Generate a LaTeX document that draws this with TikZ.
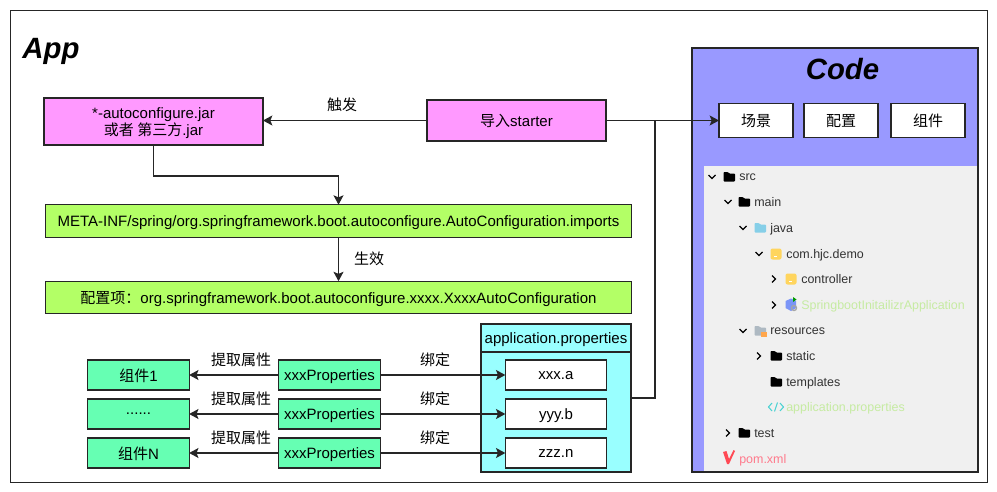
\documentclass[tikz,border=0pt]{standalone}
\usepackage{fontspec}
\setmainfont{Liberation Sans}
\newfontfamily\cjk{Noto Sans CJK SC}
\usetikzlibrary{arrows.meta,positioning}
\definecolor{jarpink}{HTML}{FF99FF}
\definecolor{confgreen}{HTML}{B3FF66}
\definecolor{compgreen}{HTML}{66FFB3}
\definecolor{propcyan}{HTML}{99FFFF}
\definecolor{codeblue}{HTML}{9999FF}
\definecolor{panelgray}{HTML}{F0F0F0}
\definecolor{pkgyellow}{HTML}{FFD55E}
\definecolor{javablue}{HTML}{86CFE8}
\definecolor{resgray}{HTML}{AEB9C2}
\definecolor{lightgreen}{HTML}{C6EBA2}
\definecolor{pomred}{HTML}{FF7A8C}
\tikzset{
  box/.style={draw=black!85,line width=0.9pt,inner sep=0pt,outer sep=0pt,text depth=0pt,font=\fontsize{11.25}{13}\selectfont,align=center},
  rowbox/.style={box,minimum width=76pt,minimum height=22.5pt},
  topbox/.style={box,fill=white,minimum width=55.5pt,minimum height=25pt},
  conf/.style={box,fill=confgreen,minimum width=439pt,minimum height=24.5pt},
  tag/.style={inner sep=0pt,font=\fontsize{11.25}{13}\selectfont},
  tree/.style={anchor=west,inner sep=0pt,text depth=0pt,font=\fontsize{9.35}{11}\selectfont,text=black!80},
  arrow/.style={draw=black!85,line width=0.9pt,-{Stealth[length=7pt,width=7.5pt,inset=1.5pt]}},
  link/.style={draw=black!85,line width=0.9pt},
  chevdown/.style={line width=1pt},
}
% small icons of the file tree
\newcommand{\treefolder}[3]{\fill[#3,rounded corners=0.6pt] (#1-5.5,#2+4.5) -- (#1-5.5,#2-5) -- (#1-1,#2-5) -- (#1,#2-3.5) -- (#1+6,#2-3.5) -- (#1+6,#2+4.5) -- cycle;}
\newcommand{\treepkg}[2]{\fill[pkgyellow,rounded corners=1.5pt] (#1-5.5,#2-5.5) rectangle (#1+5.5,#2+5.5); \fill[white] (#1-2.5,#2+2) rectangle (#1+0.5,#2+3);}
\newcommand{\chevopen}[2]{\draw[chevdown] (#1-3.5,#2-2) -- (#1,#2+1.5) -- (#1+3.5,#2-2);}
\newcommand{\chevshut}[2]{\draw[chevdown] (#1-2,#2-3.5) -- (#1+1.5,#2) -- (#1-2,#2+3.5);}
\newcommand{\moredots}{......}
\begin{document}
\begin{tikzpicture}[x=0.75pt,y=-0.75pt]
  \path[use as bounding box,fill=white] (0,0) rectangle (997,492);
  \node[box,line width=0.75pt,minimum width=732.75pt,minimum height=353.25pt] (appframe) at (498.5,246.5) {};
  \node[inner sep=0pt,font=\fontsize{22}{24}\selectfont\bfseries\itshape] (apptitle) at (51,51) {App};
  % code side
  \node[box,fill=codeblue,minimum width=214.5pt,minimum height=318pt] (codeframe) at (835,260) {};
  \fill[panelgray] (704,166) rectangle (977,471);
  \node[inner sep=0pt,font=\fontsize{22}{24}\selectfont\bfseries\itshape] (codetitle) at (842.5,69) {Code};
  \node[topbox] (scene) at (756,120.5) {\cjk 场景};
  \node[topbox] (config) at (841,120.5) {\cjk 配置};
  \node[topbox] (comp) at (928,120.5) {\cjk 组件};
  % left side, upper part
  \node[box,fill=jarpink,minimum width=164.25pt,minimum height=35.25pt] (jar) at (153.5,121.5) {*-autoconfigure.jar\\{\cjk 或者 第三方}.jar};
  \node[box,fill=jarpink,minimum width=134.25pt,minimum height=30.75pt] (starter) at (516.5,120.5) {{\cjk 导入}starter};
  \node[conf] (metainf) at (338.5,221) {META-INF/spring/org.springframework.boot.autoconfigure.AutoConfiguration.imports};
  \node[conf] (confitem) at (338.5,297.5) {{\cjk 配置项：}org.springframework.boot.autoconfigure.xxxx.XxxxAutoConfiguration};
  \node[tag] (trigger) at (342,105) {\cjk 触发};
  \node[tag] (effect) at (369,259) {\cjk 生效};
  \coordinate (bend) at (338.5,176);
  \coordinate (junction) at (655,120.5);
  \draw[arrow] (starter) -- (jar.east |- starter);
  \draw[arrow] (jar.south) |- (bend) -- (metainf.north);
  \draw[arrow] (metainf) -- (confitem);
  % properties box
  \node[box,fill=propcyan,minimum width=112.5pt,minimum height=111pt] (props) at (556,398) {};
  \node[box,minimum width=112.5pt,minimum height=21pt] (propshead) at (556,338) {application.properties};
  \draw[link] (props.east) -| (junction);
  \draw[arrow] (starter) -- (scene);
  % one row per component
  \foreach \y/\name/\comp/\val in {375/a/{{\cjk 组件}1}/xxx.a,414/b/\moredots/yyy.b,453/c/{{\cjk 组件}N}/zzz.n} {
    \node[rowbox,fill=compgreen] (comp\name) at (138.5,\y) {\comp};
    \node[rowbox,fill=compgreen] (prop\name) at (329.5,\y) {xxxProperties};
    \node[rowbox,fill=white] (val\name) at (556,\y) {\val};
    \node[tag] (pick\name) at (241,\y-15) {\cjk 提取属性};
    \node[tag] (bind\name) at (435,\y-15) {\cjk 绑定};
    \draw[arrow] (prop\name) -- (comp\name);
    \draw[arrow] (prop\name) -- (val\name);
  }
  % file tree
  \foreach \x/\y/\n/\t in {739/177/src/src,754/202/main/main,770/228/java/java,786/254/demo/com.hjc.demo,801/279/ctrl/controller,770/331/res/resources,786/356/static/static,786/382/tmpl/templates,754/433/test/test}
    \node[tree] (tree\n) at (\x,\y) {\t};
  \node[tree,text=lightgreen] (treeapp) at (801,305) {SpringbootInitailizrApplication};
  \node[tree,text=lightgreen] (treeprops) at (786,407) {application.properties};
  \node[tree,text=pomred] (treepom) at (739,459) {pom.xml};
  \chevopen{712}{177} \chevopen{728}{202} \chevopen{743}{228} \chevopen{759}{254} \chevopen{743}{331}
  \chevshut{774}{279} \chevshut{774}{305} \chevshut{759}{356} \chevshut{728}{433}
  \treefolder{729}{177}{black} \treefolder{744}{202}{black} \treefolder{760}{228}{javablue}
  \treefolder{760}{331}{resgray} \treefolder{776}{356}{black} \treefolder{776}{382}{black} \treefolder{744}{433}{black}
  \fill[orange!70] (761,332) rectangle (767,337);
  \treepkg{776}{254} \treepkg{791}{279}
  % spring class icon
  \fill[javablue!50!blue!70] (785.5,301) -- (791,298.5) -- (796,301) -- (796,308) -- (791,311) -- (785.5,308) -- cycle;
  \fill[green!60!black] (793,297) -- (796.5,299.5) -- (793,302) -- cycle;
  \draw[gray!70,line width=1pt] (794,308) circle (2.5);
  % xml icon
  \draw[teal!50!cyan!70,line width=0.8pt] (772,403) -- (768.5,407) -- (772,411) (774.5,411.5) -- (777.5,402.5) (780,403) -- (783.5,407) -- (780,411);
  % pom icon
  \fill[pomred!60!red] (723,452) -- (726.5,451) -- (729,459) -- (733.5,450) -- (735,451) -- (729,464) -- (727,464) -- cycle;
\end{tikzpicture}
\end{document}
